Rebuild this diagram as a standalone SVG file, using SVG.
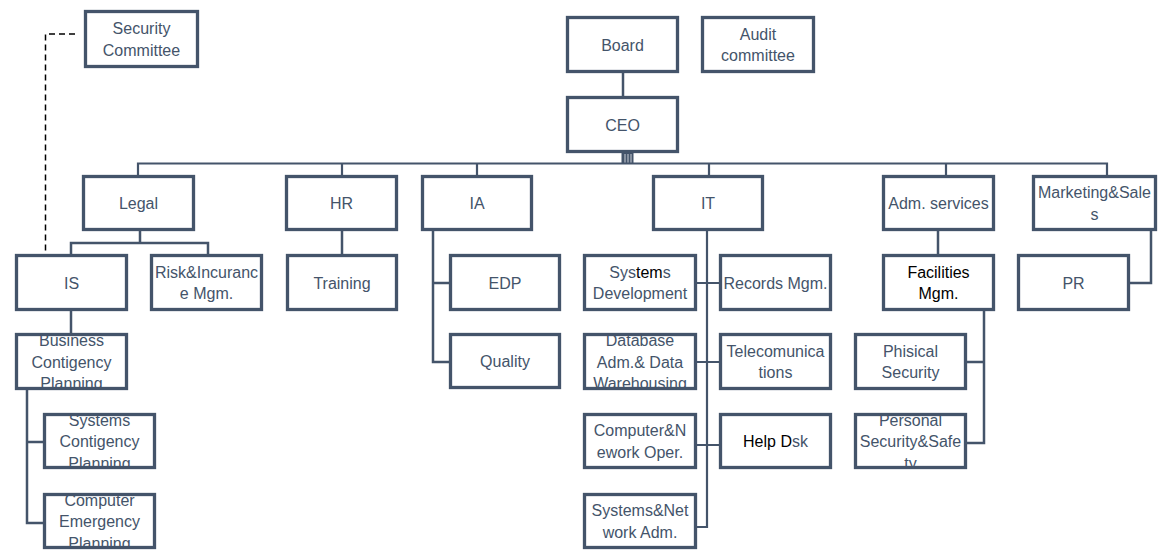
<svg xmlns="http://www.w3.org/2000/svg" width="1162" height="550" viewBox="0 0 1162 550">
<style>
.b{fill:#fff;stroke:#44546A;stroke-width:3.3}
.t{font-family:"Liberation Sans",Arial,sans-serif;font-size:16px;fill:#44546A;text-anchor:middle}
.k{fill:#000}
.c{fill:none;stroke:#44546A;stroke-width:2.5}
.bus{fill:none;stroke:#44546A;stroke-width:2.2}
.d{fill:none;stroke:#000;stroke-width:1.5;stroke-dasharray:6 4}
</style>
<defs>
<clipPath id="cBus"><rect x="18" y="336" width="107" height="51"/></clipPath>
<clipPath id="cSc"><rect x="46" y="416" width="107" height="50"/></clipPath>
<clipPath id="cCe"><rect x="46" y="496" width="107" height="50"/></clipPath>
<clipPath id="cDb"><rect x="586" y="336" width="108" height="51"/></clipPath>
<clipPath id="cPs"><rect x="857" y="416" width="107" height="50"/></clipPath>
</defs>
<rect width="1162" height="550" fill="#fff"/>
<g id="connectors">
<path class="d" d="M75 34H45.5V258"/>
<path class="c" d="M623 73V96"/>
<rect x="621.5" y="153" width="12" height="10" fill="#44546A"/>
<path d="M625 154V163M628 154V163M631 154V163" stroke="#C9CED6" stroke-width="1"/>
<path class="bus" d="M138 175V163.5H1107V175M342 163.5V175M477 163.5V175M709 163.5V175M946 163.5V175"/>
<path class="c" d="M140 231V243M71 254V243H208V254"/>
<path class="c" d="M342 231V254"/>
<path class="c" d="M71 311V333"/>
<path class="c" d="M27 390V523H43M27 442H43"/>
<path class="c" d="M433 231V362H449M433 283H449"/>
<path class="bus" d="M707 231V527H697M697 283H719M697 362H719M697 445H719"/>
<path class="c" d="M938 231V254"/>
<path class="c" d="M984 311V443H967M984 362H967"/>
<path class="c" d="M1151 230V283H1130"/>
</g>
<g id="security-committee"><rect class="b" x="85.5" y="11.5" width="112" height="55"/><text class="t" x="141.5" y="34">Security</text><text class="t" x="141.5" y="55.7">Committee</text></g>
<g id="board"><rect class="b" x="567.5" y="17.5" width="110" height="54"/><text class="t" x="622.5" y="50.5">Board</text></g>
<g id="audit"><rect class="b" x="702.5" y="17.5" width="111" height="54"/><text class="t" x="758" y="39.5">Audit</text><text class="t" x="758" y="61">committee</text></g>
<g id="ceo"><rect class="b" x="567.5" y="97.5" width="110" height="54"/><text class="t" x="622.5" y="130.5">CEO</text></g>
<g id="legal"><rect class="b" x="83.5" y="176.5" width="110" height="53"/><text class="t" x="138.5" y="209">Legal</text></g>
<g id="hr"><rect class="b" x="286.5" y="176.5" width="110" height="53"/><text class="t" x="341.5" y="209">HR</text></g>
<g id="ia"><rect class="b" x="422.5" y="176.5" width="109" height="53"/><text class="t" x="477" y="209">IA</text></g>
<g id="it"><rect class="b" x="653.5" y="176.5" width="109" height="53"/><text class="t" x="708" y="209">IT</text></g>
<g id="adm"><rect class="b" x="883.5" y="176.5" width="110" height="53"/><text class="t" x="938.5" y="209">Adm. services</text></g>
<g id="marketing"><rect class="b" x="1033.5" y="176.5" width="122" height="53"/><text class="t" x="1094.5" y="198">Marketing&amp;Sale</text><text class="t" x="1094.5" y="219.5">s</text></g>
<g id="is"><rect class="b" x="16.5" y="255.5" width="110" height="54"/><text class="t" x="71.5" y="288.5">IS</text></g>
<g id="risk"><rect class="b" x="151.5" y="255.5" width="110" height="54"/><text class="t" x="206.5" y="277.5">Risk&amp;Incuranc</text><text class="t" x="206.5" y="299">e Mgm.</text></g>
<g id="training"><rect class="b" x="287.5" y="255.5" width="109" height="54"/><text class="t" x="342" y="288.5">Training</text></g>
<g id="edp"><rect class="b" x="450.5" y="255.5" width="109" height="54"/><text class="t" x="505" y="288.5">EDP</text></g>
<g id="quality"><rect class="b" x="450.5" y="334.5" width="109" height="53"/><text class="t" x="505" y="367">Quality</text></g>
<g id="systems-development"><rect class="b" x="584.5" y="255.5" width="111" height="54"/><text class="t" x="640" y="277.5">Sys<tspan class="k">tem</tspan>s</text><text class="t" x="640" y="299">Development</text></g>
<g id="records"><rect class="b" x="720.5" y="255.5" width="110" height="54"/><text class="t" x="775.5" y="288.5">Records Mgm.</text></g>
<g id="database"><rect class="b" x="584.5" y="334.5" width="111" height="54"/><g clip-path="url(#cDb)"><text class="t" x="640" y="345.8">Database</text><text class="t" x="640" y="367.5">Adm.&amp; Data</text><text class="t" x="640" y="389">Warehousing</text></g></g>
<g id="telecom"><rect class="b" x="720.5" y="334.5" width="110" height="54"/><text class="t" x="775.5" y="356.5">Telecomunica</text><text class="t" x="775.5" y="378">tions</text></g>
<g id="computer-network"><rect class="b" x="584.5" y="414.5" width="111" height="53"/><text class="t" x="640" y="436">Computer&amp;N</text><text class="t" x="640" y="457.5">ework Oper.</text></g>
<g id="help-desk"><rect class="b" x="720.5" y="414.5" width="110" height="53"/><text class="t" x="775.5" y="447"><tspan class="k">Help D</tspan>sk</text></g>
<g id="systems-network"><rect class="b" x="584.5" y="494.5" width="111" height="53"/><text class="t" x="640" y="516">Systems&amp;Net</text><text class="t" x="640" y="537.5">work Adm.</text></g>
<g id="facilities"><rect class="b" x="883.5" y="255.5" width="110" height="54"/><text class="t k" x="938.5" y="277.5">Facilities</text><text class="t k" x="938.5" y="299">Mgm.</text></g>
<g id="pr"><rect class="b" x="1018.5" y="255.5" width="110" height="54"/><text class="t" x="1073.5" y="288.5">PR</text></g>
<g id="phisical"><rect class="b" x="855.5" y="334.5" width="110" height="54"/><text class="t" x="910.5" y="356.5">Phisical</text><text class="t" x="910.5" y="378">Security</text></g>
<g id="personal"><rect class="b" x="855.5" y="414.5" width="110" height="53"/><g clip-path="url(#cPs)"><text class="t" x="910.5" y="425.5">Personal</text><text class="t" x="910.5" y="447">Security&amp;Safe</text><text class="t" x="910.5" y="468.5">ty</text></g></g>
<g id="business"><rect class="b" x="16.5" y="334.5" width="110" height="54"/><g clip-path="url(#cBus)"><text class="t" x="71.5" y="345.8">Business</text><text class="t" x="71.5" y="367.5">Contigency</text><text class="t" x="71.5" y="389">Planning</text></g></g>
<g id="systems-contigency"><rect class="b" x="44.5" y="414.5" width="110" height="53"/><g clip-path="url(#cSc)"><text class="t" x="99.5" y="425.5">Systems</text><text class="t" x="99.5" y="447">Contigency</text><text class="t" x="99.5" y="468.5">Planning</text></g></g>
<g id="computer-emergency"><rect class="b" x="44.5" y="494.5" width="110" height="53"/><g clip-path="url(#cCe)"><text class="t" x="99.5" y="505.5">Computer</text><text class="t" x="99.5" y="527">Emergency</text><text class="t" x="99.5" y="548.5">Planning</text></g></g>
</svg>
